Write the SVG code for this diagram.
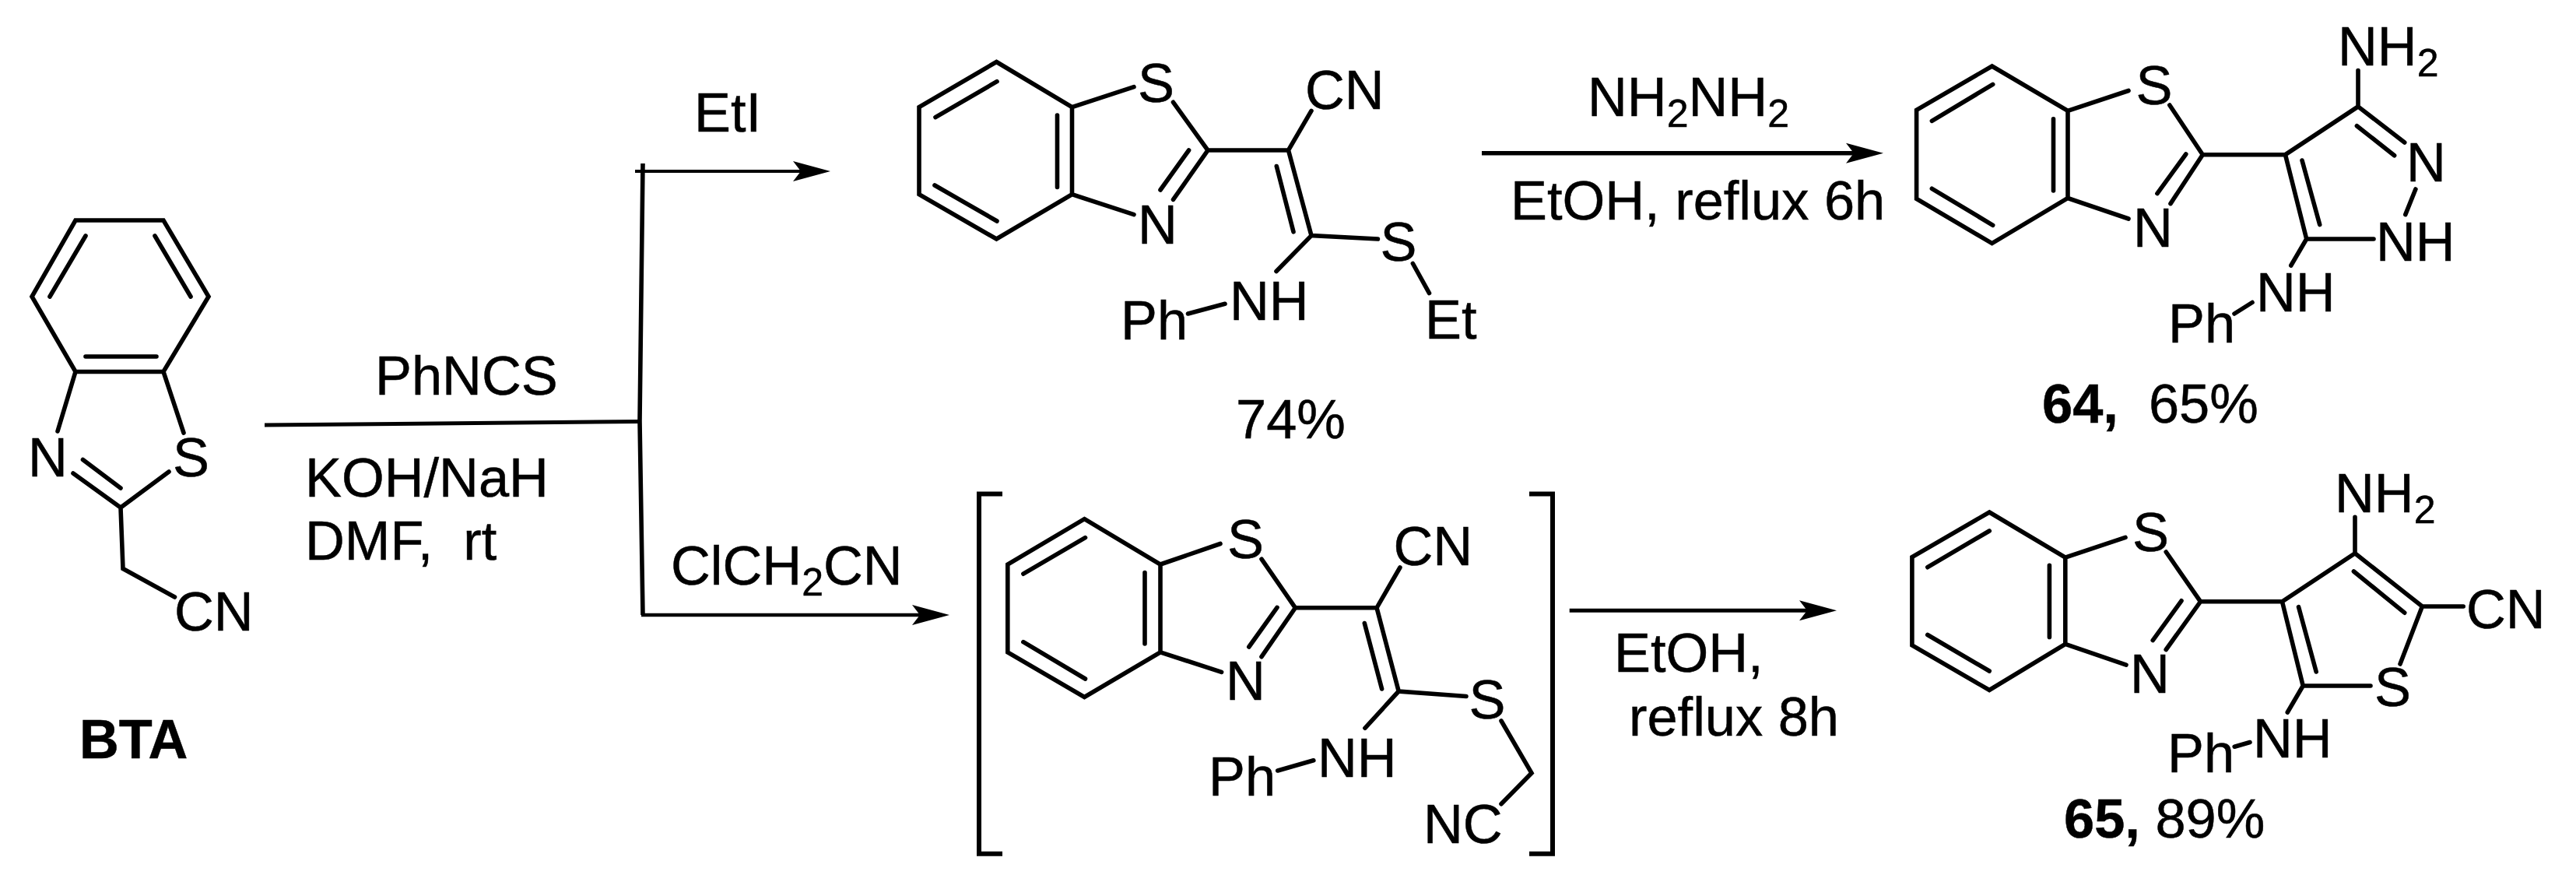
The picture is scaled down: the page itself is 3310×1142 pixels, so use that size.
<svg xmlns="http://www.w3.org/2000/svg" width="3310" height="1142" viewBox="0 0 3310 1142">
<style>
text{font-family:"Liberation Sans",Arial,sans-serif;font-size:70.4px;fill:#000;stroke:#000;stroke-width:.5;white-space:pre}
.b{font-weight:bold}
.s{font-size:50px}
.bond{fill:none;stroke:#000;stroke-width:5.6;stroke-linejoin:miter;stroke-linecap:round}
.bar{fill:none;stroke:#000;stroke-width:6;stroke-linejoin:miter}
.arr{fill:none;stroke:#000;stroke-width:4.6}
</style>
<defs>
<marker id="head" markerUnits="userSpaceOnUse" markerWidth="60" markerHeight="40" refX="10" refY="20" orient="auto" overflow="visible"><path d="M48 20L0 7L10 20L0 33Z" fill="#000"/></marker>
</defs>
<rect width="3310" height="1142" fill="#fff"/>
<g id="connectors">
<path class="arr" style="stroke-width:5" d="M340 546L822 541.5"/>
<path class="arr" style="stroke-width:5.6" d="M826 210L822 541L826 790"/>
<path class="arr" style="stroke-width:3.8" d="M816 220H1029" marker-end="url(#head)"/>
<path class="arr" style="stroke-width:4.6" d="M824 790H1182" marker-end="url(#head)"/>
<path class="arr" style="stroke-width:5.6" d="M1904 196.7H2382" marker-end="url(#head)"/>
<path class="arr" style="stroke-width:5" d="M2016.7 784.3H2322" marker-end="url(#head)"/>
</g>
<g id="reagents">
<text x="482" y="507">PhNCS</text>
<text x="392" y="638">KOH/NaH</text>
<text x="392" y="719">DMF,  rt</text>
<text x="892" y="169">EtI</text>
<text x="862" y="751">ClCH<tspan class="s" dy="14">2</tspan><tspan dy="-14">CN</tspan></text>
<text x="2040" y="149.300">NH<tspan class="s" dy="14">2</tspan><tspan dy="-14">NH</tspan><tspan class="s" dy="14">2</tspan></text>
<text x="1941" y="281.700">EtOH, reflux 6h</text>
<text x="2074" y="863">EtOH,</text>
<text x="2093" y="945">reflux 8h</text>
</g>
<g id="BTA">
<path class="bond" d="M97 283H210L268 381L210 477.500H97L41 381ZM110 303L64 381M199 303L245 381M110 458H201M97 477.500L74 554M210 477.500L236 556M94 608L155 652L217 606M106.500 590.500L155 627M155 652L158 730.500L224.500 767"/>
<text x="36" y="612">N</text>
<text x="222" y="612">S</text>
<text x="224" y="809.500">CN</text>
<text class="b" x="102" y="974">BTA</text>
</g>
<g id="compound-ethylthio">
<path class="bond" d="M1280.400 79.500L1377.500 137.600V249.700L1280.400 307L1181 249.700V137.600ZM1281 104.700L1202 150.600M1358.500 148V240.500M1201 238L1281 284M1377.500 137.600L1457 111.700M1377.500 249.700L1457 275.600M1507.500 131.300L1552 193L1507.500 256.400M1491 244L1527.600 193M1552 193H1655.500L1685 142.400M1655.500 193L1685 302.600L1770.400 307M1640.300 213.500L1662 297.800M1685 302.600L1640 348.500M1815.400 338.500L1836.500 376.600M1526.500 403L1574 390.300"/>
<text x="1462" y="130.500">S</text>
<text x="1677" y="139.500">CN</text>
<text x="1462" y="312.600">N</text>
<text x="1773.500" y="335">S</text>
<text x="1580" y="410.700">NH</text>
<text x="1440" y="435.800">Ph</text>
<text x="1831" y="434.700">Et</text>
<text x="1588" y="563">74%</text>
</g>
<g id="compound-64">
<path class="bond" d="M2559.600 85L2657 142.400V254.500L2559.600 312.600L2462.600 255.300V141.300ZM2560.700 108.400L2482.400 155.400M2638.500 152.800V245M2482.400 242.300L2560.700 289.300M2657 142.400L2735 116.500M2657 254.500L2735 281M2787.800 135L2830.300 198.700L2789 261.600M2771.900 248.600L2808.800 198M2830.300 198.700H2936.500L3030 136.900V90.600M3030 136.900L3089.700 183M3028.400 161.700L3076.600 199.800M3103.900 243L3090.800 275.600M2936.500 198.700L2963.700 307H3050M2958 206L2980.700 288.600M2963.700 307L2943.800 341M2871 403L2894 388.500"/>
<text x="3004" y="84.400">NH<tspan class="s" dy="14">2</tspan></text>
<text x="2744.500" y="134">S</text>
<text x="2741" y="317.400">N</text>
<text x="3092" y="233">N</text>
<text x="3053" y="334.800">NH</text>
<text x="2899" y="399.600">NH</text>
<text x="2786" y="439.500">Ph</text>
<text x="2624" y="543"><tspan class="b">64,</tspan>  65%</text>
</g>
<g id="compound-intermediate">
<path class="bar" d="M1288 634.600H1258V1096.700H1288M1965 634.600H1995V1096.700H1965"/>
<path class="bond" d="M1393.400 666.700L1491 725V837.800L1393.400 895.500L1294.800 837.800V725ZM1394.500 690.600L1314.900 737.200M1471 735.500V827M1314.900 824.700L1394.500 872M1491 725L1568 698.500M1491 837.800L1569.600 863.400M1621 718.200L1664.400 780.800L1621 843.700M1604.800 831L1641 780.400M1664.400 780.800H1769L1798.900 729M1769 780.800L1797.200 888L1884 894.500M1753.300 800.500L1775.600 885M1797.200 888L1753.900 935.300M1929 926L1968 993L1929 1032.800M1641.700 990L1687.800 976.800"/>
<text x="1577" y="716.500">S</text>
<text x="1790.500" y="726">CN</text>
<text x="1575" y="899">N</text>
<text x="1887.500" y="923">S</text>
<text x="1693" y="997.500">NH</text>
<text x="1553" y="1022.400">Ph</text>
<text x="1829" y="1083.200">NC</text>
</g>
<g id="compound-65">
<path class="bond" d="M2556.200 658L2653.800 716.200V827.300L2556.200 886.500L2456.900 829V715.500ZM2556.200 682L2476.800 728.700M2633.400 726.200V818.400M2476.800 815.500L2556.200 862M2653.800 716.200L2731 690.400M2653.800 827.300L2732 854.200M2783.200 709L2827.500 772.800L2783.200 834.500M2766.200 822.600L2803 771.800M2827.500 772.800H2932.500L3026 710.800V664.200M3026 710.800L3112.400 779H3165.200M3024.400 734L3089.700 787.200M3112.400 779L3084 853M2932.500 772.800L2959.200 881H3046M2953.500 779.600L2976.200 863M2959.200 881L2939.300 915M2871.200 959.200L2891 953.500"/>
<text x="3000" y="658">NH<tspan class="s" dy="14">2</tspan></text>
<text x="2740" y="708">S</text>
<text x="2737" y="890">N</text>
<text x="3169" y="806.900">CN</text>
<text x="3051" y="907">S</text>
<text x="2895" y="972.500">NH</text>
<text x="2785" y="992.200">Ph</text>
<text x="2652" y="1075.700"><tspan class="b">65,</tspan> 89%</text>
</g>
</svg>
